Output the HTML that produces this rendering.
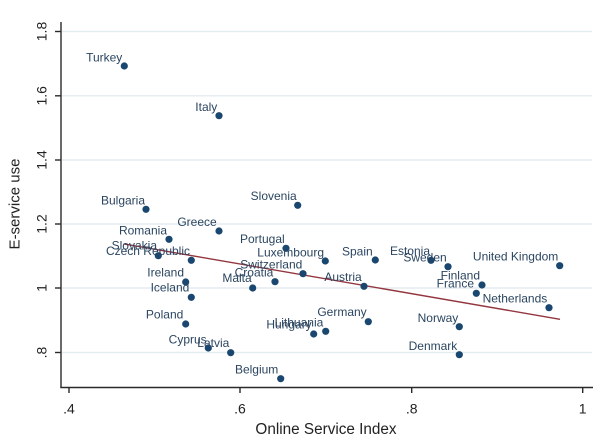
<!DOCTYPE html>
<html>
<head>
<meta charset="utf-8">
<style>
html,body{margin:0;padding:0;background:#fff;}
svg{display:block;}
text{font-family:"Liberation Sans",Arial,sans-serif;}
.lbl{font-size:12px;fill:#2b4560;text-anchor:end;}
.tk{font-size:14px;fill:#222;text-anchor:middle;}
</style>
</head>
<body>
<svg width="600" height="438" viewBox="0 0 600 438" xmlns="http://www.w3.org/2000/svg">
<rect width="600" height="438" fill="#fff"/>
<!-- gridlines -->
<g stroke="#e3ecef" stroke-width="1.4">
<line x1="62" y1="31.5" x2="592" y2="31.5"/>
<line x1="62" y1="95.8" x2="592" y2="95.8"/>
<line x1="62" y1="160" x2="592" y2="160"/>
<line x1="62" y1="224" x2="592" y2="224"/>
<line x1="62" y1="288" x2="592" y2="288"/>
<line x1="62" y1="352.5" x2="592" y2="352.5"/>
</g>
<!-- axes -->
<g stroke="#2a2a2a" stroke-width="1.4" fill="none">
<line x1="61" y1="22" x2="61" y2="387.5"/>
<line x1="60.3" y1="387.5" x2="593" y2="387.5"/>
<line x1="55" y1="31.5" x2="61" y2="31.5"/>
<line x1="55" y1="95.8" x2="61" y2="95.8"/>
<line x1="55" y1="160" x2="61" y2="160"/>
<line x1="55" y1="224" x2="61" y2="224"/>
<line x1="55" y1="288" x2="61" y2="288"/>
<line x1="55" y1="352.5" x2="61" y2="352.5"/>
<line x1="69" y1="387.5" x2="69" y2="393"/>
<line x1="240" y1="387.5" x2="240" y2="393"/>
<line x1="411.7" y1="387.5" x2="411.7" y2="393"/>
<line x1="582.7" y1="387.5" x2="582.7" y2="393"/>
</g>
<!-- y tick labels -->
<g class="tk">
<text transform="translate(46.5,31.5) rotate(-90)">1.8</text>
<text transform="translate(46.5,95.8) rotate(-90)">1.6</text>
<text transform="translate(46.5,160) rotate(-90)">1.4</text>
<text transform="translate(46.5,224) rotate(-90)">1.2</text>
<text transform="translate(46.5,288) rotate(-90)">1</text>
<text transform="translate(46.5,352.5) rotate(-90)">.8</text>
</g>
<!-- x tick labels -->
<g class="tk">
<text x="69" y="413.5">.4</text>
<text x="240" y="413.5">.6</text>
<text x="411.7" y="413.5">.8</text>
<text x="582.7" y="413.5">1</text>
</g>
<!-- axis titles -->
<text x="326" y="434" font-size="15.3" fill="#222" text-anchor="middle">Online Service Index</text>
<text transform="translate(19.5,204) rotate(-90)" font-size="15" fill="#222" text-anchor="middle">E-service use</text>
<!-- fit line -->
<line x1="124.3" y1="244" x2="560" y2="319.3" stroke="#93363f" stroke-width="1.4"/>
<!-- points -->
<g fill="#1a476f">
<circle cx="124.3" cy="66" r="3.6"/>
<circle cx="219" cy="115.7" r="3.6"/>
<circle cx="146" cy="209.3" r="3.6"/>
<circle cx="297.7" cy="205.3" r="3.6"/>
<circle cx="219" cy="231" r="3.6"/>
<circle cx="169" cy="239.3" r="3.6"/>
<circle cx="158.3" cy="255.7" r="3.6"/>
<circle cx="191.3" cy="260.3" r="3.6"/>
<circle cx="185.7" cy="282" r="3.6"/>
<circle cx="191.3" cy="297.3" r="3.6"/>
<circle cx="185.7" cy="324" r="3.6"/>
<circle cx="208.3" cy="348" r="3.6"/>
<circle cx="230.7" cy="352.7" r="3.6"/>
<circle cx="280.7" cy="378.7" r="3.6"/>
<circle cx="313.7" cy="334" r="3.6"/>
<circle cx="325.7" cy="331.3" r="3.6"/>
<circle cx="368.3" cy="321.7" r="3.6"/>
<circle cx="286" cy="248.3" r="3.6"/>
<circle cx="325.3" cy="261" r="3.6"/>
<circle cx="303" cy="273.7" r="3.6"/>
<circle cx="275" cy="281.7" r="3.6"/>
<circle cx="252.7" cy="288" r="3.6"/>
<circle cx="364" cy="286.3" r="3.6"/>
<circle cx="375.3" cy="260" r="3.6"/>
<circle cx="431" cy="260.3" r="3.6"/>
<circle cx="448" cy="266.7" r="3.6"/>
<circle cx="559.7" cy="265.7" r="3.6"/>
<circle cx="482" cy="285" r="3.6"/>
<circle cx="476.3" cy="293.3" r="3.6"/>
<circle cx="549" cy="307.7" r="3.6"/>
<circle cx="459.3" cy="326.7" r="3.6"/>
<circle cx="459.3" cy="354.7" r="3.6"/>
</g>
<!-- labels -->
<g class="lbl">
<text x="122.3" y="61.5">Turkey</text>
<text x="217.3" y="111">Italy</text>
<text x="145" y="204.3">Bulgaria</text>
<text x="296.7" y="200">Slovenia</text>
<text x="216.7" y="226">Greece</text>
<text x="167" y="234.3">Romania</text>
<text x="157" y="249.3">Slovakia</text>
<text x="190" y="255">Czech Republic</text>
<text x="184" y="276.6">Ireland</text>
<text x="189.3" y="291.6">Iceland</text>
<text x="183.3" y="318.6">Poland</text>
<text x="206.7" y="343.3">Cyprus</text>
<text x="229.3" y="347">Latvia</text>
<text x="278.3" y="373.3">Belgium</text>
<text x="311.7" y="328.6">Hungary</text>
<text x="323.3" y="326.6">Lithuania</text>
<text x="366.7" y="316">Germany</text>
<text x="284.7" y="243">Portugal</text>
<text x="324" y="256.3">Luxembourg</text>
<text x="302.3" y="268.3">Switzerland</text>
<text x="273.3" y="276.6">Croatia</text>
<text x="251.7" y="282">Malta</text>
<text x="361.7" y="281">Austria</text>
<text x="372.7" y="255.3">Spain</text>
<text x="430" y="255">Estonia</text>
<text x="446.7" y="261.6">Sweden</text>
<text x="558.3" y="260.3">United Kingdom</text>
<text x="480" y="279.6">Finland</text>
<text x="474" y="287.6">France</text>
<text x="547.3" y="302.6">Netherlands</text>
<text x="458.3" y="322">Norway</text>
<text x="457.3" y="350">Denmark</text>
</g>
</svg>
</body>
</html>
